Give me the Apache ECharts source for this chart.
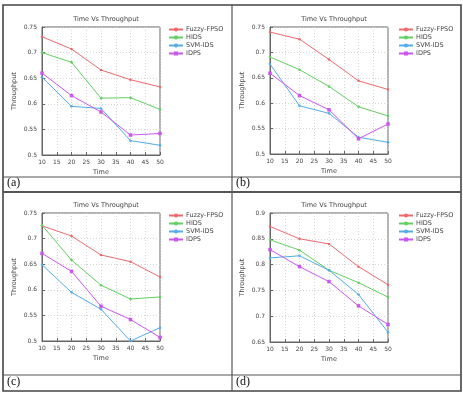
<!DOCTYPE html>
<html>
<head>
<meta charset="utf-8">
<script src="https://cdn.jsdelivr.net/npm/echarts@6/dist/echarts.min.js"></script>
<style>
html,body{margin:0;padding:0;background:#fff;}
#chart{width:463px;height:395px;}
</style>
</head>
<body>
<div id="chart"></div>
<script>
// ---- data ----
const times = [10, 20, 30, 40, 50];
const seriesNames = ['Fuzzy-FPSO', 'HIDS', 'SVM-IDS', 'IDPS'];
const panelLabels = ['(a)', '(b)', '(c)', '(d)'];
const chartTitle = 'Time Vs Throughput';
const xName = 'Time';
const yName = 'Throughput';

const a_fuzzy = [0.731, 0.707, 0.666, 0.647, 0.633];
const a_hids  = [0.700, 0.681, 0.611, 0.612, 0.589];
const a_svm   = [0.652, 0.595, 0.591, 0.528, 0.519];
const a_idps  = [0.660, 0.616, 0.584, 0.539, 0.542];

const b_fuzzy = [0.740, 0.726, 0.686, 0.644, 0.627];
const b_hids  = [0.691, 0.666, 0.633, 0.593, 0.575];
const b_svm   = [0.677, 0.595, 0.580, 0.533, 0.523];
const b_idps  = [0.659, 0.615, 0.587, 0.530, 0.559];

const c_fuzzy = [0.725, 0.705, 0.668, 0.655, 0.625];
const c_hids  = [0.726, 0.658, 0.609, 0.582, 0.586];
const c_svm   = [0.649, 0.595, 0.562, 0.500, 0.526];
const c_idps  = [0.671, 0.636, 0.568, 0.542, 0.507];

const d_fuzzy = [0.874, 0.850, 0.840, 0.796, 0.761];
const d_hids  = [0.848, 0.828, 0.789, 0.765, 0.737];
const d_svm   = [0.813, 0.817, 0.789, 0.742, 0.669];
const d_idps  = [0.829, 0.796, 0.767, 0.720, 0.684];

const yMins = [0.5, 0.5, 0.5, 0.65];
const yMaxs = [0.75, 0.75, 0.75, 0.9];
const yStep = 0.05;
const xMin = 10, xMax = 50, xStep = 5;

const panels = [
  [a_fuzzy, a_hids, a_svm, a_idps],
  [b_fuzzy, b_hids, b_svm, b_idps],
  [c_fuzzy, c_hids, c_svm, c_idps],
  [d_fuzzy, d_hids, d_svm, d_idps]
];

// ---- layout / style ----
const colors = ['#ec6a6e', '#62cf62', '#52ace8', '#cc55f0'];
const symbols = ['circle', 'circle', 'circle', 'rect'];
const symSizes = [2.5, 2.5, 2.5, 3.5];
const grids = [
  {left: 42, top: 27, width: 118, height: 128},
  {left: 270, top: 27, width: 118, height: 127},
  {left: 42, top: 213, width: 118, height: 128},
  {left: 270, top: 213, width: 118, height: 129}
];
const legendPos = [
  {left: 168, top: 26},
  {left: 398, top: 26},
  {left: 168, top: 212},
  {left: 398, top: 212}
];
const titleY = [11, 11, 197, 197];

const textColor = '#444';
const font = 'DejaVu Sans';

const option = {
  backgroundColor: '#fff',
  animation: false,
  title: grids.map((g, i) => ({
    text: chartTitle,
    left: g.left + g.width / 2,
    top: titleY[i],
    textAlign: 'center',
    textStyle: {fontSize: 6.5, fontWeight: 'normal', color: textColor, fontFamily: font}
  })),
  legend: grids.map((g, i) => ({
    orient: 'vertical',
    left: legendPos[i].left,
    top: legendPos[i].top,
    data: seriesNames,
    itemWidth: 14,
    itemHeight: 5,
    itemGap: 1,
    padding: 0,
    textStyle: {fontSize: 6.5, color: textColor, fontFamily: font, padding: [0, 0, 0, -2], lineHeight: 6}
  })),
  grid: grids.map(g => ({
    left: g.left, top: g.top, width: g.width, height: g.height,
    show: true, borderColor: '#666', borderWidth: 1, backgroundColor: '#fff'
  })),
  xAxis: grids.map((g, i) => ({
    gridIndex: i, type: 'value', min: xMin, max: xMax, interval: xStep,
    name: xName, nameLocation: 'middle', nameGap: 14,
    nameTextStyle: {fontSize: 6.5, color: textColor, fontFamily: font},
    axisLine: {show: true, lineStyle: {color: '#666', width: 1}},
    axisTick: {show: true, inside: true, length: 3, lineStyle: {color: '#666'}},
    axisLabel: {fontSize: 6, color: textColor, fontFamily: font, margin: 4},
    splitLine: {show: true, lineStyle: {color: '#ccc', type: [1, 2], width: 0.8}}
  })),
  yAxis: grids.map((g, i) => ({
    gridIndex: i, type: 'value', min: yMins[i], max: yMaxs[i], interval: yStep,
    name: yName, nameLocation: 'middle', nameGap: 24,
    nameTextStyle: {fontSize: 6.5, color: textColor, fontFamily: font},
    axisLine: {show: true, lineStyle: {color: '#666', width: 1}},
    axisTick: {show: true, inside: true, length: 3, lineStyle: {color: '#666'}},
    axisLabel: {fontSize: 6, color: textColor, fontFamily: font, margin: 5},
    splitLine: {show: true, lineStyle: {color: '#ccc', type: [1, 2], width: 0.8}}
  })),
  series: [],
  graphic: []
};

panels.forEach((p, pi) => {
  p.forEach((vals, si) => {
    option.series.push({
      name: seriesNames[si],
      type: 'line',
      xAxisIndex: pi, yAxisIndex: pi,
      data: times.map((t, k) => [t, vals[k]]),
      symbol: symbols[si],
      symbolSize: symSizes[si],
      showSymbol: true,
      lineStyle: {color: colors[si], width: 1},
      itemStyle: {color: colors[si]},
      z: 3
    });
  });
});

// table frame
const lineStyle = {stroke: '#555', lineWidth: 1.2};
option.graphic = [
  {type: 'rect', shape: {x: 3, y: 5, width: 458, height: 386}, style: {fill: 'none', stroke: '#444', lineWidth: 1.6}, silent: true},
  {type: 'line', shape: {x1: 232, y1: 5, x2: 232, y2: 391}, style: lineStyle, silent: true},
  {type: 'line', shape: {x1: 3, y1: 177, x2: 461, y2: 177}, style: {stroke: '#555', lineWidth: 1}, silent: true},
  {type: 'line', shape: {x1: 3, y1: 192, x2: 461, y2: 192}, style: {stroke: '#555', lineWidth: 1.8}, silent: true},
  {type: 'line', shape: {x1: 3, y1: 375, x2: 461, y2: 375}, style: {stroke: '#555', lineWidth: 1}, silent: true},
  {type: 'text', left: 7, top: 177, style: {text: panelLabels[0], font: '12px "Liberation Serif"', fill: '#111'}},
  {type: 'text', left: 236, top: 177, style: {text: panelLabels[1], font: '12px "Liberation Serif"', fill: '#111'}},
  {type: 'text', left: 7, top: 376, style: {text: panelLabels[2], font: '12px "Liberation Serif"', fill: '#111'}},
  {type: 'text', left: 236, top: 376, style: {text: panelLabels[3], font: '12px "Liberation Serif"', fill: '#111'}}
];

const chart = echarts.init(document.getElementById('chart'), null, {renderer: 'canvas'});
chart.setOption(option);
</script>
</body>
</html>
